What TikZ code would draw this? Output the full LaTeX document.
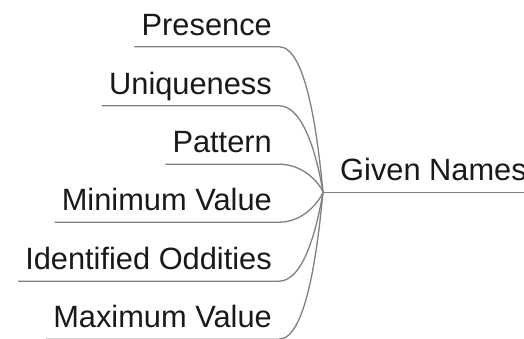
\documentclass[tikz,border=0pt]{standalone}
\usepackage{fontspec}
\setmainfont{Liberation Sans}
\begin{document}
\begin{tikzpicture}[x=1pt,y=-1pt,
  topic/.style={inner xsep=7pt, inner ysep=3.5pt, text height=22pt, text depth=8pt,
    font=\fontsize{30.8}{36}\selectfont, text=black!90},
  branch/.style={draw=black!50, line width=1.3pt}]
  \useasboundingbox (0,0) rectangle (524,338);
  \clip (0,0) rectangle (524,338);
  % central topic
  \node[topic, anchor=base west, inner xsep=17pt] (root) at (323,180.5) {Given Names};
  \coordinate (j) at (root.south west);
  \draw[branch] (j) -- (root.south east);
  % subtopics, right-aligned text with an underline
  \node[topic, anchor=base east] (c1) at (279,35)    {Presence};
  \node[topic, anchor=base east] (c2) at (279,94)    {Uniqueness};
  \node[topic, anchor=base east] (c3) at (279,152.5) {Pattern};
  \node[topic, anchor=base east] (c4) at (279,210.5) {Minimum Value};
  \node[topic, anchor=base east] (c5) at (279,269.5) {Identified Oddities};
  \node[topic, anchor=base east] (c6) at (279,327.5) {Maximum Value};
  % connectors: underline, then a curve into the junction
  \draw[branch] (c1.south west) -- (c1.south east) .. controls +(28,0) and +(-5,-52) .. (j);
  \draw[branch] (c2.south west) -- (c2.south east) .. controls +(26,0) and +(-5,-30) .. (j);
  \draw[branch] (c3.south west) -- (c3.south east) .. controls +(24,0) and +(-4,-10) .. (j);
  \draw[branch] (c4.south west) -- (c4.south east) .. controls +(24,0) and +(-4,10) .. (j);
  \draw[branch] (c5.south west) -- (c5.south east) .. controls +(26,0) and +(-5,30) .. (j);
  \draw[branch] (c6.south west) -- (c6.south east) .. controls +(28,0) and +(-5,52) .. (j);
\end{tikzpicture}
\end{document}
